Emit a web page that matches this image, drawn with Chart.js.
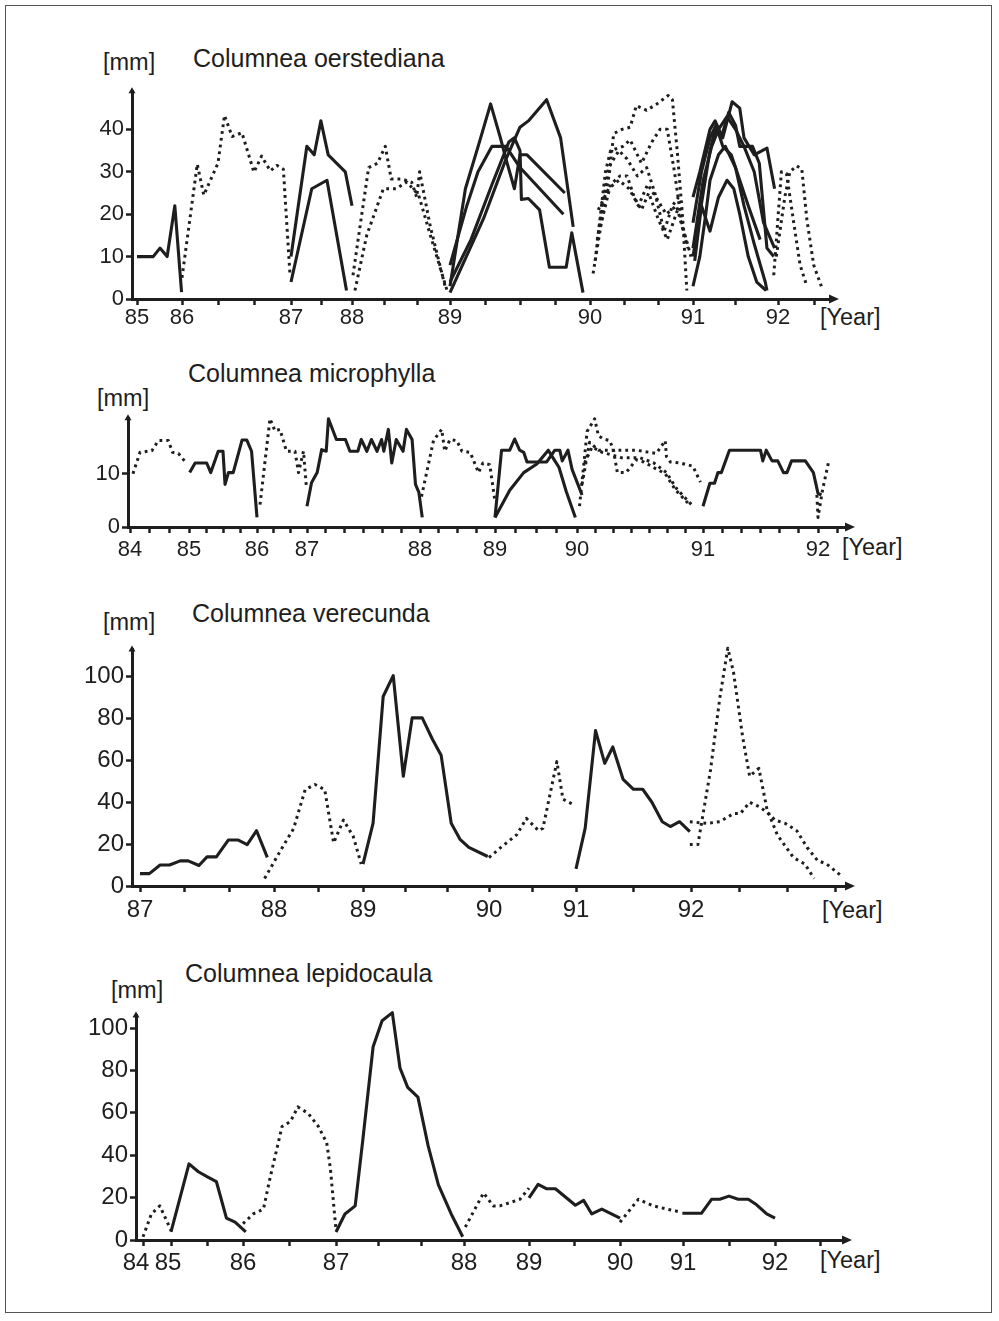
<!DOCTYPE html>
<html>
<head>
<meta charset="utf-8">
<script src="https://cdn.jsdelivr.net/npm/chart.js@4.4.1/dist/chart.umd.min.js"></script>
<style>
  body { margin: 0; background: #fff; }
  #page { position: relative; width: 999px; height: 1321px; overflow: hidden;
          font-family: 'Liberation Sans', Arial, sans-serif; color: #1e1e1e; }
  #frame { position: absolute; left: 5px; top: 5px; width: 985px; height: 1306px; border: 1.5px solid #555; }
  canvas { position: absolute; left: 0; }
  .t { position: absolute; white-space: nowrap; line-height: 1; }
  .title { font-size: 25px; }
  .unit { font-size: 23.5px; }
</style>
</head>
<body>
<div id="page">
  <div id="frame"></div>

  <div class="t title" style="left:193px;top:46px">Columnea oerstediana</div>
  <div class="t unit" style="left:103px;top:51px">[mm]</div>
  <div class="t unit" style="left:820px;top:306px">[Year]</div>

  <div class="t title" style="left:188px;top:361px">Columnea microphylla</div>
  <div class="t unit" style="left:97px;top:387px">[mm]</div>
  <div class="t unit" style="left:842px;top:536px">[Year]</div>

  <div class="t title" style="left:192px;top:601px">Columnea verecunda</div>
  <div class="t unit" style="left:103px;top:611px">[mm]</div>
  <div class="t unit" style="left:822px;top:899px">[Year]</div>

  <div class="t title" style="left:185px;top:961px">Columnea lepidocaula</div>
  <div class="t unit" style="left:111px;top:979px">[mm]</div>
  <div class="t unit" style="left:820px;top:1249px">[Year]</div>

  <canvas id="c1"></canvas>
  <canvas id="c2"></canvas>
  <canvas id="c3"></canvas>
  <canvas id="c4"></canvas>
</div>

<script>
// each series is a list of [year, mm] readings

// Columnea oerstediana
var oerYears = [85, 86, 87, 88, 89, 90, 91, 92];
var oerSolid = [
  [[85.0,10],[85.36,10],[85.51,12],[85.67,10],[85.84,22],[85.99,1.6]],
  [[87.0,10],[87.26,36],[87.38,34],[87.49,42],[87.61,34],[87.89,30],[88.0,22]],
  [[87.0,4],[87.34,26],[87.59,28],[87.91,2]],
  [[89.0,3],[89.11,26],[89.21,37],[89.29,46],[89.36,38],[89.4,33],[89.46,26],[89.5,34],[89.55,34],[89.82,25]],
  [[89.0,1.5],[89.24,19],[89.4,33],[89.5,40.5],[89.56,42],[89.69,47],[89.79,38],[89.88,17]],
  [[89.0,8],[89.12,22],[89.2,30],[89.3,36],[89.4,36],[89.5,31],[89.81,20]],
  [[89.0,4],[89.15,14],[89.3,27],[89.42,37],[89.46,38],[89.5,35],[89.51,23.5],[89.56,23.7],[89.64,21],[89.71,7.5],[89.83,7.5],[89.87,15.6],[89.95,1.5]],
  [[91.0,24],[91.08,30],[91.2,40],[91.26,42],[91.35,38],[91.46,46.5],[91.55,45],[91.6,38],[91.72,34],[91.87,35.6],[91.96,26]],
  [[91.0,18],[91.1,30],[91.2,38],[91.27,41],[91.35,36],[91.45,34],[91.55,28],[91.65,22],[91.79,14]],
  [[91.0,10],[91.12,25],[91.2,35],[91.26,40],[91.33,38],[91.42,44],[91.5,41],[91.55,36],[91.7,36],[91.78,32],[91.87,12],[91.95,10]],
  [[91.0,3],[91.08,10],[91.15,20],[91.2,28],[91.3,34],[91.38,36],[91.5,31],[91.6,22],[91.72,13],[91.85,4],[91.87,2]],
  [[91.02,9],[91.1,22],[91.15,19],[91.2,16],[91.3,24],[91.4,28],[91.48,26],[91.55,20],[91.65,10],[91.75,4],[91.86,2]],
  [[91.0,12],[91.12,28],[91.22,36],[91.3,40],[91.4,43],[91.5,40],[91.6,36],[91.72,30],[91.83,18],[91.96,12]]
];
var oerDotted = [
  [[86.0,5],[86.14,31.8],[86.2,24.5],[86.33,32],[86.39,43.3],[86.46,38.3],[86.55,39.2],[86.66,29.9],[86.73,33.7],[86.81,30.2],[86.87,31.5],[86.93,30.6],[86.99,6]],
  [[88.01,5.6],[88.1,20],[88.17,31],[88.26,32],[88.34,36],[88.4,28.3],[88.51,28.3],[88.61,27.5],[88.66,24],[88.69,30],[88.8,17],[88.95,3]],
  [[88.03,2],[88.15,15],[88.32,26],[88.45,26],[88.56,27.6],[88.68,24.5],[88.8,15],[88.97,2]],
  [[90.03,6],[90.19,30],[90.23,39],[90.31,40],[90.39,40.5],[90.45,45.6],[90.55,44.5],[90.65,46],[90.76,48],[90.8,47],[90.85,34],[90.9,19],[90.94,2]],
  [[90.05,9],[90.15,30],[90.2,35],[90.32,36],[90.39,37.5],[90.5,32],[90.6,37],[90.68,40],[90.75,40],[90.82,30],[90.89,18],[90.98,10]],
  [[90.07,14],[90.18,31],[90.28,35],[90.36,33],[90.46,29],[90.55,31],[90.63,25],[90.72,16],[90.8,22],[90.86,24]],
  [[90.1,17],[90.2,27],[90.29,29],[90.36,29],[90.43,24],[90.5,21],[90.57,25],[90.66,19],[90.75,14],[90.85,21]],
  [[90.08,21],[90.18,26],[90.28,28],[90.38,26],[90.47,22],[90.56,27],[90.64,24],[90.74,20],[90.84,22],[90.95,12]],
  [[91.95,5.6],[92.04,30],[92.1,29.6],[92.18,18.7],[92.26,8],[92.34,3]],
  [[91.98,10],[92.08,24],[92.14,30],[92.22,31.4],[92.28,30.6],[92.34,18.7],[92.42,8],[92.51,3]]
];

// Columnea microphylla
var micYears = [84, 85, 86, 87, 88, 89, 90, 91, 92];
var micSolid = [
  [[85.01,10.2],[85.09,12],[85.26,12],[85.32,10.2],[85.43,14.2],[85.5,14.2],[85.53,8],[85.58,10.2],[85.65,10.2],[85.78,16.3],[85.85,16.3],[85.92,14.2],[86.0,1.8]],
  [[87.0,3.9],[87.04,8.3],[87.09,10.2],[87.13,14.5],[87.17,14.2],[87.19,20.3],[87.26,16.4],[87.34,16.4],[87.38,14.2],[87.45,14.2],[87.48,16.4],[87.53,14.2],[87.57,16.4],[87.62,14.2],[87.66,16.4],[87.68,14.2],[87.72,18.3],[87.75,12],[87.79,16.4],[87.85,14.2],[87.88,18.3],[87.93,16.4],[87.96,8],[87.99,6.5],[88.03,1.8]],
  [[89.0,1.8],[89.08,14.4],[89.18,14.4],[89.24,16.5],[89.3,14.4],[89.35,14],[89.39,12.2],[89.63,12.2],[89.73,14.4],[89.79,14.4],[89.82,12.4],[89.89,14.4],[89.94,10.8],[90.04,6]],
  [[89.0,1.8],[89.18,6.9],[89.35,10.2],[89.51,11.8],[89.65,14.4],[89.73,12.4],[89.78,11.2],[89.87,6.6],[89.98,1.8]],
  [[91.0,3.9],[91.06,8.2],[91.1,8.2],[91.13,10.2],[91.16,10.2],[91.23,14.4],[91.5,14.4],[91.52,12.4],[91.55,14.4],[91.6,12.4],[91.65,12.4],[91.7,10.2],[91.73,10.2],[91.77,12.4],[91.89,12.4],[91.96,10.2],[92.0,6.3],[92.03,6]]
];
var micDotted = [
  [[84.05,10],[84.17,14],[84.37,14.3],[84.48,16.2],[84.65,16.2],[84.72,14],[84.82,13.8],[84.96,11.9]],
  [[86.06,4.2],[86.26,20.3],[86.36,18],[86.46,18.3],[86.59,14.2],[86.76,14.2],[86.83,10.2],[86.93,14.2],[86.99,7.2]],
  [[88.02,5.7],[88.18,16.2],[88.29,18.3],[88.33,14.2],[88.4,16.4],[88.49,16.2],[88.56,14.2],[88.67,14],[88.78,10.2],[88.84,12],[88.93,11.7],[89.0,4.8]],
  [[90.02,3.9],[90.05,10.8],[90.08,17.9],[90.14,20.3],[90.17,17.1],[90.21,16.5],[90.26,16.2],[90.29,14.4],[90.32,10.2],[90.39,10.2],[90.47,12.6],[90.53,12.2],[90.62,11],[90.7,10],[90.78,7],[90.9,4]],
  [[90.04,8],[90.1,15.9],[90.17,14.4],[90.3,14.4],[90.47,14.4],[90.63,13.8],[90.7,16.2],[90.71,13.2],[90.74,12.2],[90.82,12],[90.92,11.4],[90.98,8.4]],
  [[90.06,12],[90.12,15],[90.2,14],[90.35,13],[90.5,13],[90.61,12],[90.71,10.2],[90.79,7.2],[90.92,3.9]],
  [[91.99,6],[92.0,1.8],[92.04,7],[92.09,12]]
];

// Columnea verecunda
var verYears = [87, 88, 89, 90, 91, 92];
var verSolid = [
  [[87.0,5.9],[87.07,5.9],[87.15,10],[87.22,10],[87.3,12],[87.36,12],[87.44,9.8],[87.5,13.9],[87.57,13.9],[87.66,22],[87.73,22],[87.8,19.8],[87.87,26.4],[87.95,13.7]],
  [[89.0,10.5],[89.08,30],[89.16,90.5],[89.24,100.5],[89.32,52.4],[89.39,80.3],[89.47,80.3],[89.55,70.2],[89.62,62.5],[89.7,30],[89.77,22.3],[89.84,18.4],[89.99,14.1]],
  [[91.0,8.2],[91.08,27.6],[91.17,74.2],[91.25,58.6],[91.32,66.4],[91.41,50.9],[91.5,46.2],[91.58,46.2],[91.66,40],[91.75,30.7],[91.82,28.4],[91.9,30.7],[91.99,26]]
];
var verDotted = [
  [[87.93,3.6],[88.07,16.7],[88.22,27.4],[88.35,46],[88.46,48.5],[88.57,46],[88.67,20.6],[88.78,31.5],[88.89,23.7],[88.98,10.5]],
  [[90.0,13.6],[90.13,18.2],[90.32,24.5],[90.43,32.3],[90.57,26.4],[90.62,27.6],[90.78,59.4],[90.85,41.5],[90.99,38.4]],
  [[91.99,19.8],[92.06,19.8],[92.17,55.5],[92.25,89.6],[92.32,113.6],[92.37,102],[92.45,70.9],[92.51,52.4],[92.59,56.2],[92.66,36.8],[92.75,24.5],[92.89,13.6],[92.99,10.5],[93.07,3.6]],
  [[91.99,30.7],[92.14,29.9],[92.25,30.7],[92.37,34.6],[92.43,34.6],[92.51,40],[92.6,37.7],[92.69,33.8],[92.73,31.5],[92.82,29.9],[92.92,26.4],[93.01,18.4],[93.1,12.2],[93.18,10.5],[93.32,4.3]]
];

// Columnea lepidocaula
var lepYears = [84, 85, 86, 87, 88, 89, 90, 91, 92];
var lepSolid = [
  [[85.0,3.8],[85.25,35.9],[85.38,32.2],[85.5,29.9],[85.63,27.6],[85.77,10.3],[85.89,8.4],[86.03,3.8]],
  [[87.0,3.8],[87.07,12.3],[87.15,16.1],[87.21,47.5],[87.29,91.2],[87.36,103.5],[87.44,107.3],[87.5,81.2],[87.56,72],[87.64,67.4],[87.72,44.4],[87.8,26],[87.9,12.3],[87.99,1.5]],
  [[89.0,19.9],[89.1,26.3],[89.19,24.2],[89.29,24.2],[89.51,16.4],[89.6,18.7],[89.69,12.3],[89.8,14.6],[90.0,10.3]],
  [[90.99,12.6],[91.2,12.6],[91.31,19.2],[91.4,19.2],[91.5,20.7],[91.6,19.2],[91.71,19.2],[91.8,16.6],[91.91,12.3],[92.0,10.3]]
];
var lepDotted = [
  [[84.0,1.5],[84.3,12.3],[84.6,16.1],[85.0,4.6]],
  [[86.0,7.7],[86.11,12.3],[86.22,14.6],[86.29,29.1],[86.42,53.6],[86.51,55.9],[86.59,62.8],[86.7,59.8],[86.81,53.6],[86.9,45.9],[86.94,33.6],[87.0,4.6]],
  [[88.02,6.1],[88.3,22.2],[88.45,16.1],[88.55,16.1],[88.86,19.2],[89.0,24.5]],
  [[90.0,8.4],[90.29,19.2],[90.53,16.1],[90.74,14.6],[90.98,13.1]]
];

var INK = '#1e1e1e';
var FONT = "'Liberation Sans', Arial, sans-serif";

// layout of each panel: the year axis is broken, so every year gets its own start on the axis
var panels = [
  { canvas: 'c1', years: oerYears, solid: oerSolid, dotted: oerDotted,
    yearAt: [137, 182, 291, 352, 450, 590, 693, 778, 863],
    x0: 132, x1: 832, yTop: 86, yZero: 299, yMax: 49, yTick: 10, yLabel: 10, yTickMax: 40,
    minorGap: 36, labelPad: 0, fontSize: 22 },
  { canvas: 'c2', years: micYears, solid: micSolid, dotted: micDotted,
    yearAt: [130, 189, 257, 307, 420, 495, 577, 703, 818, 933],
    x0: 128, x1: 848, yTop: 413, yZero: 527, yMax: 20.4, yTick: 10, yLabel: 10, yTickMax: 10,
    minorGap: 19, labelPad: 4, fontSize: 22 },
  { canvas: 'c3', years: verYears, solid: verSolid, dotted: verDotted,
    yearAt: [140, 274, 363, 489, 576, 691, 806],
    x0: 132, x1: 848, yTop: 643, yZero: 886, yMax: 113, yTick: 10, yLabel: 20, yTickMax: 100,
    minorGap: 48, labelPad: 4, fontSize: 24 },
  { canvas: 'c4', years: lepYears, solid: lepSolid, dotted: lepDotted,
    yearAt: [143, 171, 243, 336, 464, 529, 620, 683, 775, 867],
    labelShift: { 84: -7, 85: -3 },
    x0: 136, x1: 845, yTop: 1009, yZero: 1240, yMax: 106, yTick: 10, yLabel: 20, yTickMax: 100,
    minorGap: 45, labelPad: 3, fontSize: 24 }
];

// year -> position along the broken axis
function axisPos(p, yr) {
  var ys = p.years.concat([p.years[p.years.length - 1] + 1]);
  var i = 0;
  while (i < ys.length - 2 && yr > ys[i + 1]) i++;
  var t = (yr - ys[i]) / (ys[i + 1] - ys[i]);
  return p.yearAt[i] + t * (p.yearAt[i + 1] - p.yearAt[i]) - p.x0;
}

function xTicks(p) {
  var list = [];
  for (var i = 0; i < p.years.length; i++) {
    var a = p.yearAt[i], b = (i + 1 < p.years.length) ? p.yearAt[i + 1] : p.x1 - 4;
    list.push({ value: a - p.x0, label: String(p.years[i]) });
    var n = Math.max(1, Math.round((b - a) / p.minorGap));
    var step = (i + 1 < p.years.length) ? (b - a) / n : p.minorGap;
    for (var v = a + step; v < b - 4; v += step) list.push({ value: v - p.x0, label: '' });
  }
  return list.sort(function (m, n) { return m.value - n.value; });
}

var axisArrows = {
  id: 'axisArrows',
  afterDraw: function (chart) {
    var c = chart.ctx, a = chart.chartArea;
    c.save();
    c.fillStyle = INK;
    c.beginPath();
    c.moveTo(a.right + 7, a.bottom);
    c.lineTo(a.right - 3, a.bottom - 4.5);
    c.lineTo(a.right - 3, a.bottom + 4.5);
    c.closePath();
    c.fill();
    c.beginPath();
    c.moveTo(a.left, a.top - 4);
    c.lineTo(a.left - 3.5, a.top + 2);
    c.lineTo(a.left + 3.5, a.top + 2);
    c.closePath();
    c.fill();
    c.restore();
  }
};

panels.forEach(function (p) {
  var cv = document.getElementById(p.canvas);
  var top = p.yTop - 10, xH = 40, yW = 60;
  cv.width = 999;
  cv.height = p.yZero + 46 - top;
  cv.style.top = top + 'px';

  var ticks = xTicks(p);
  var datasets = [];
  function add(series, dotted) {
    series.forEach(function (s) {
      datasets.push({
        data: s.map(function (pt) { return { x: axisPos(p, pt[0]), y: pt[1] }; }),
        showLine: true,
        borderColor: INK,
        borderWidth: dotted ? 3 : 3.1,
        borderDash: dotted ? [2.8, 4] : [],
        borderJoinStyle: 'round',
        pointRadius: 0,
        clip: 10
      });
    });
  }
  add(p.solid, false);
  add(p.dotted, true);

  var yVals = [];
  for (var v = 0; v <= p.yTickMax; v += p.yTick) yVals.push(v);

  var shift = p.labelShift || {};
  var xFont = { family: FONT, size: p.fontSize };

  new Chart(cv, {
    type: 'scatter',
    data: { datasets: datasets },
    options: {
      responsive: false,
      animation: false,
      layout: { padding: { top: 10, left: p.x0 - yW, right: 999 - p.x1, bottom: 46 - xH } },
      plugins: { legend: { display: false }, tooltip: { enabled: false } },
      scales: {
        x: {
          type: 'linear', min: 0, max: p.x1 - p.x0,
          afterBuildTicks: function (s) { s.ticks = ticks.map(function (t) { return { value: t.value }; }); },
          afterFit: function (s) { s.height = xH; },
          ticks: {
            autoSkip: false, maxRotation: 0, padding: p.labelPad, color: INK, font: xFont,
            callback: function (val, i) { return ticks[i] ? ticks[i].label : ''; }
          },
          grid: { drawOnChartArea: false, drawTicks: true, tickLength: 6, tickWidth: 2.5, tickColor: INK },
          border: { display: true, width: 3, color: INK }
        },
        y: {
          type: 'linear', min: 0, max: p.yMax,
          afterBuildTicks: function (s) { s.ticks = yVals.map(function (t) { return { value: t }; }); },
          afterFit: function (s) { s.width = yW; },
          ticks: {
            padding: 2, color: INK, font: xFont,
            callback: function (val) { return val % p.yLabel === 0 ? String(val) : ''; }
          },
          grid: { drawOnChartArea: false, drawTicks: true, tickLength: 6, tickWidth: 2.5, tickColor: INK },
          border: { display: true, width: 3, color: INK }
        }
      }
    },
    plugins: [axisArrows, {
      id: 'labelShift',
      // nudge crowded year labels (84 and 85 sit close together on the lepidocaula axis)
      afterUpdate: function (chart) {
        var s = chart.scales.x;
        if (!s._computeLabelItems) return;
        s._labelItems = s._computeLabelItems(chart.chartArea);
        s._labelItems.forEach(function (it, i) {
          var lab = ticks[i] && ticks[i].label;
          if (lab && shift[lab]) it.options.translation[0] += shift[lab];
        });
      }
    }]
  });
});
</script>
</body>
</html>
